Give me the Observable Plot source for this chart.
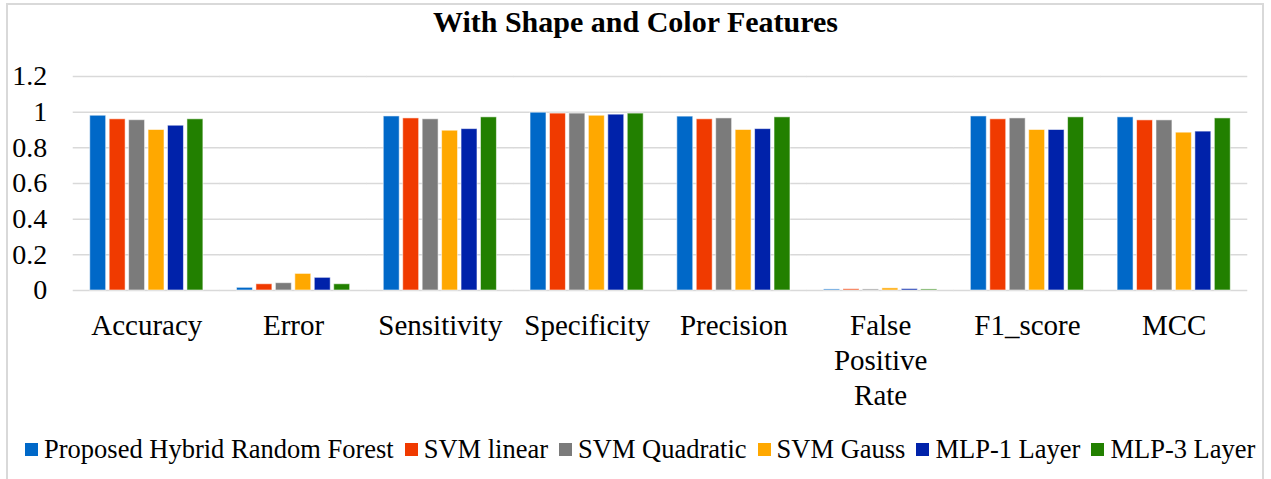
<!DOCTYPE html>
<html>
<head>
<meta charset="utf-8">
<script src="https://cdn.jsdelivr.net/npm/d3@7"></script>
<script src="https://cdn.jsdelivr.net/npm/@observablehq/plot@0.6"></script>
<style>
  html, body { margin: 0; padding: 0; background: #fff; }
  #wrap { position: relative; width: 1271px; height: 479px; overflow: hidden; font-family: "Liberation Serif", "Times New Roman", serif; color: #000; }
  #frame { position: absolute; left: 6px; top: 3px; width: 1258px; height: 480px; border: 2px solid #d9d9d9; box-sizing: border-box; pointer-events: none; }
  #title { position: absolute; left: 0; top: 3px; width: 1271px; text-align: center; font-size: 30px; font-weight: bold; line-height: 38px; }
  #chart { position: absolute; left: 0; top: 40px; }
  #legend { position: absolute; left: 25px; top: 436px; height: 26px; display: flex; align-items: center; font-size: 26.5px; line-height: 26px; white-space: nowrap; }
  .item { display: flex; align-items: center; margin-right: 11px; }
  .sw { width: 13px; height: 13px; margin-right: 6px; }
</style>
</head>
<body>
<div id="wrap">
  <div id="frame"></div>
  <div id="title">With Shape and Color Features</div>
  <div id="chart"></div>
  <div id="legend"></div>
</div>
<script>
const categories = ["Accuracy", "Error", "Sensitivity", "Specificity", "Precision", "False Positive Rate", "F1_score", "MCC"];
const models = ["Proposed Hybrid Random Forest", "SVM linear", "SVM Quadratic", "SVM Gauss", "MLP-1 Layer", "MLP-3 Layer"];
const colors = ["#0068c8", "#f03a00", "#7b7b7b", "#ffa800", "#0022aa", "#228000"];
const hybridRF     = [0.980, 0.015, 0.976, 0.997, 0.975, 0.006, 0.976, 0.971];
const svmLinear    = [0.960, 0.035, 0.965, 0.992, 0.960, 0.007, 0.960, 0.954];
const svmQuadratic = [0.955, 0.041, 0.960, 0.992, 0.965, 0.006, 0.965, 0.954];
const svmGauss     = [0.900, 0.093, 0.896, 0.980, 0.900, 0.012, 0.900, 0.885];
const mlp1         = [0.924, 0.071, 0.905, 0.986, 0.905, 0.008, 0.900, 0.891];
const mlp3         = [0.960, 0.035, 0.971, 0.992, 0.971, 0.006, 0.971, 0.965];
const yTicks = [0, 0.2, 0.4, 0.6, 0.8, 1, 1.2];

const series = [hybridRF, svmLinear, svmQuadratic, svmGauss, mlp1, mlp3];
const rows = [];
categories.forEach((c, i) => models.forEach((m, j) => rows.push({category: c, model: m, value: series[j][i]})));

const chart = Plot.plot({
  width: 1271,
  height: 375,
  marginTop: 36,
  marginBottom: 125,
  marginLeft: 73,
  marginRight: 24,
  style: {fontFamily: "'Liberation Serif', 'Times New Roman', serif", color: "#000", background: "transparent"},
  fx: {domain: categories, paddingInner: 0.229, paddingOuter: 0.114, round: false, label: null},
  x: {domain: models, axis: null, paddingInner: 0.18, paddingOuter: 0, round: false},
  y: {domain: [0, 1.2], label: null},
  color: {domain: models, range: colors},
  marks: [
    Plot.ruleY(yTicks, {stroke: "#d9d9d9", strokeWidth: 1.5, insetLeft: -17, insetRight: -17}),
    Plot.barY(rows, {fx: "category", x: "model", y: "value", fill: "model", stroke: "#ffffff", strokeOpacity: 0.55, strokeWidth: 1}),
    Plot.axisY({ticks: yTicks, tickSize: 0, tickPadding: 43, fontSize: 28, label: null, tickFormat: d => String(d)}),
    Plot.axisFx({anchor: "bottom", tickSize: 0, tickPadding: 20, fontSize: 29, lineHeight: 1.2, label: null,
                 tickFormat: d => d.replace(/ /g, "\n")})
  ]
});
document.getElementById("chart").appendChild(chart);

const legend = document.getElementById("legend");
models.forEach((m, j) => {
  const it = document.createElement("div");
  it.className = "item";
  const sw = document.createElement("span");
  sw.className = "sw";
  sw.style.background = colors[j];
  const tx = document.createElement("span");
  tx.textContent = m;
  it.appendChild(sw);
  it.appendChild(tx);
  legend.appendChild(it);
});
</script>
</body>
</html>
